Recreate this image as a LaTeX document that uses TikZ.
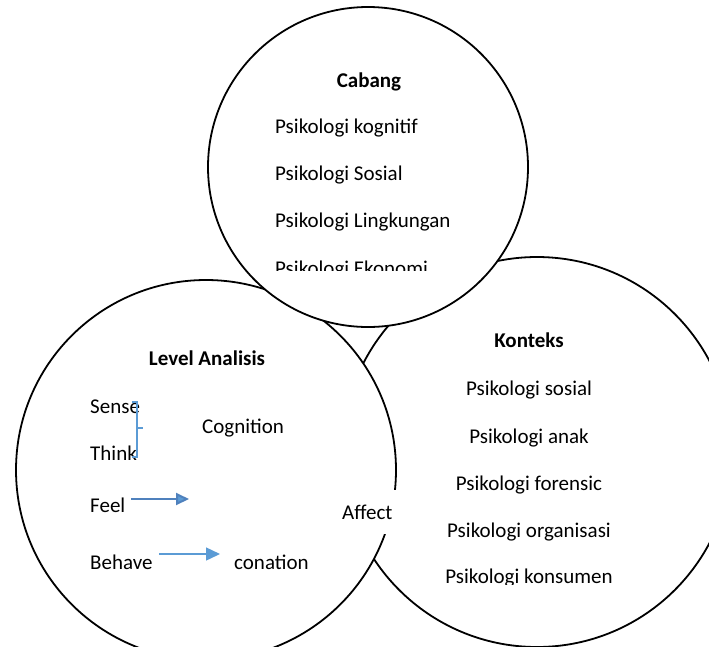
\documentclass[tikz,border=0pt]{standalone}
\usepackage{fontspec}
\setmainfont{Carlito}
\usetikzlibrary{arrows.meta}
\definecolor{arrowA}{HTML}{4F81BD}
\definecolor{arrowB}{HTML}{5B9BD5}
\begin{document}
\begin{tikzpicture}[x=1pt,y=-1pt,
  ring/.style={circle, draw=black, line width=1.8pt, fill=white, inner sep=0pt},
  txt/.style={font=\fontsize{21}{25}\selectfont, inner sep=0pt},
  ttl/.style={font=\fontsize{21}{25}\selectfont\bfseries, inner sep=0pt},
  brk/.style={draw=arrowB, line width=1.1pt},
  arrfeel/.style={draw=arrowA, line width=2pt, -{Triangle[length=13pt,width=12pt,fill=arrowB]}},
  arrbeh/.style={draw=arrowB, line width=1.4pt, -{Triangle[length=14pt,width=13pt,fill=arrowB]}}]
\useasboundingbox (0,0) rectangle (709,646);
\clip (0,0) rectangle (709,646);
% circles
\node[ring, minimum size=390pt] (konteks) at (537,452) {};
\node[ring, minimum size=380pt] (level) at (206,470) {};
\node[ring, minimum size=320pt] (cabang) at (368,167) {};
% top circle texts
\node[ttl, anchor=base] (cabangT) at (369,87) {Cabang};
\node[txt, anchor=base west] (c1) at (275,133) {Psikologi kognitif};
\node[txt, anchor=base west] (c2) at (275,180) {Psikologi Sosial};
\node[txt, anchor=base west] (c3) at (275,227) {Psikologi Lingkungan};
\begin{scope}
\clip (200,0) rectangle (540,270);
\node[txt, anchor=base west] (c4) at (275,275) {Psikologi Ekonomi};
\end{scope}
% left circle texts
\node[ttl, anchor=base] (levelT) at (207,365) {Level Analisis};
\node[txt, anchor=base west] (sense) at (90,413) {Sense};
\node[txt, anchor=base west] (think) at (90,460) {Think};
\node[txt, anchor=base west] (cognition) at (202,433) {Cognition};
\node[txt, anchor=base west] (feel) at (90,512) {Feel};
\node[txt, anchor=base west] (behave) at (90,569) {Behave};
\node[txt, anchor=base west] (conation) at (234,569) {conation};
\node[txt, anchor=base west, fill=white, inner xsep=6pt, inner ysep=15pt] (affect) at (336,519) {Affect};
% bracket
\coordinate (bt) at (132,402);
\coordinate (bb) at (132,457);
\coordinate (bm1) at (137,428);
\coordinate (bm2) at (143,428);
\draw[brk] (bt) -- ++(5,0) |- (bb);
\draw[brk] (bm1) -- (bm2);
% arrows
\coordinate (feelstart) at (131,499);
\coordinate (feelend) at (189,499);
\draw[arrfeel] (feelstart) -- (feelend);
\coordinate (behstart) at (159,554);
\coordinate (behend) at (220,554);
\draw[arrbeh] (behstart) -- (behend);
% right circle texts
\node[ttl, anchor=base] (kontT) at (529,347) {Konteks};
\node[txt, anchor=base] (k1) at (529,395) {Psikologi sosial};
\node[txt, anchor=base] (k2) at (529,443) {Psikologi anak};
\node[txt, anchor=base] (k3) at (529,490) {Psikologi forensic};
\node[txt, anchor=base] (k4) at (529,537) {Psikologi organisasi};
\begin{scope}
\clip (400,500) rectangle (700,584);
\node[txt, anchor=base] (k5) at (529,583) {Psikologi konsumen};
\end{scope}
\end{tikzpicture}
\end{document}
